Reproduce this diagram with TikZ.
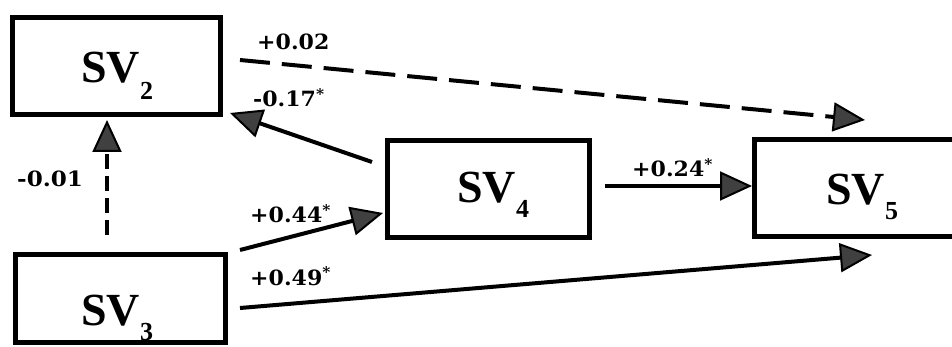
\documentclass[tikz,border=0pt]{standalone}
\usepackage{fontspec}
\setmainfont{Liberation Serif}
\newfontfamily\labfont{DejaVu Serif}
\usetikzlibrary{arrows.meta,calc}
\definecolor{tipgray}{HTML}{404040}
\begin{document}
\begin{tikzpicture}[x=1pt,y=-1pt,
  box/.style={draw=black, line width=5.5pt, inner sep=0pt, outer sep=0pt},
  boxtext/.style={font=\bfseries\fontsize{46}{46}\selectfont, inner sep=0pt, anchor=base west},
  lab/.style={font=\labfont\bfseries\fontsize{21}{21}\selectfont, inner sep=0pt, anchor=base west},
  conn/.style={line width=4pt, -{Triangle[length=32pt,width=29pt,line width=2pt,fill=tipgray]}},
  longdash/.style={dash pattern=on 30pt off 12pt},
  shortdash/.style={dash pattern=on 15pt off 7pt}]
\useasboundingbox (0,0) rectangle (952,347);
\fill[white] (0,0) rectangle (952,347);
% boxes
\node[box, minimum width=208pt, minimum height=97pt] (s2) at (116.5,66) {};
\node[box, minimum width=210pt, minimum height=88pt] (s3) at (120.5,298.5) {};
\node[box, minimum width=202pt, minimum height=97pt] (s4) at (488.5,189) {};
\node[box, minimum width=215pt, minimum height=97pt] (s5) at (862,188) {};
% box texts
\node[boxtext] (t2) at (81,83) {SV\raisebox{-17pt}{\fontsize{26}{26}\selectfont 2}};
\node[boxtext] (t3) at (81,325) {SV\raisebox{-15pt}{\fontsize{26}{26}\selectfont 3}};
\node[boxtext] (t4) at (457,203) {SV\raisebox{-15pt}{\fontsize{26}{26}\selectfont 4}};
\node[boxtext] (t5) at (826,205) {SV\raisebox{-15pt}{\fontsize{26}{26}\selectfont 5}};
% connectors
\draw[conn,shortdash] ($(s3.north)+(-13.5,-19.5)$) -- ($(s2.south)+(-9.5,5.5)$);
\draw[conn,longdash] ($(s2.east)+(19.5,-6)$) -- ($(s5.north)+(3,-19.5)$);
\draw[conn] ($(s4.west)+(-15.5,-27)$) -- ($(s2.south east)+(9.5,-1.5)$);
\draw[conn] ($(s3.north east)+(14.5,-4.5)$) -- ($(s4.west)+(-4.5,24)$);
\draw[conn] ($(s4.east)+(15.5,-3)$) -- ($(s5.west)+(-2.5,-2)$);
\draw[conn] ($(s3.east)+(14.5,9.5)$) -- ($(s5.south)+(10,18.5)$);
% labels
\node[lab] (l1) at (257,50) {\scalebox{1.05}[1]{+0.02}};
\node[lab] (l2) at (253,107) {\scalebox{1.05}[1]{-0.17\textsuperscript{*}}};
\node[lab] (l3) at (250,223) {\scalebox{1.05}[1]{+0.44\textsuperscript{*}}};
\node[lab] (l4) at (17,187) {\scalebox{1.1}[1]{-0.01}};
\node[lab] (l5) at (250,285) {\scalebox{1.05}[1]{+0.49\textsuperscript{*}}};
\node[lab] (l6) at (632,177) {\scalebox{1.05}[1]{+0.24\textsuperscript{*}}};
\end{tikzpicture}
\end{document}
